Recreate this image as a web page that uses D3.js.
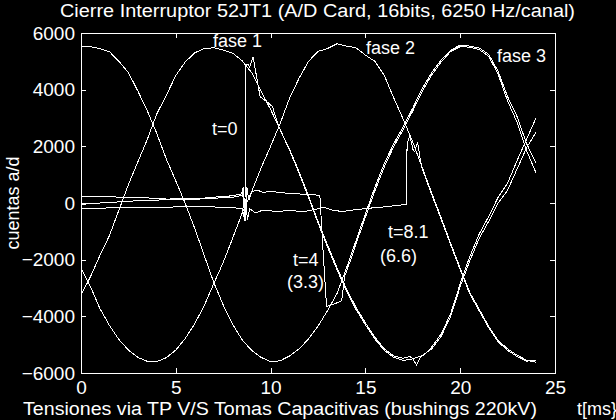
<!DOCTYPE html>
<html>
<head>
<meta charset="utf-8">
<script src="https://cdn.jsdelivr.net/npm/d3@7"></script>
<style>
body { margin: 0; background: #000; }
svg { display: block; background: #000; }
text { font-family: "Liberation Sans", Arial, sans-serif; fill: #fff; }
</style>
</head>
<body>
<script>
// time grid of the TP voltages [ms]
var tGrid = [0,0.5,1,1.5,2,2.5,3,3.5,4,4.5,5,5.5,6,6.5,7,7.5,8,8.5,9,9.5,10,10.5,11,11.5,12,
  12.5,13,13.5,14,14.5,15,15.5,16,16.5,17,17.5,18,18.5,19,19.5,20,20.5,21,21.5,22,22.5,23,23.5,24];

// TP voltages (cuentas a/d)
var tpA = [5540,5520,5450,5340,5000,4600,3950,3250,2450,1550,780,-20,-900,-1850,-2800,-3600,-4280,-4830,-5200,-5450,
  -5600,-5570,-5400,-5150,-4800,-4350,-3800,-3200,-2300,-1340,-380,550,1400,2100,2700,3350,4050,4600,5050,5400,
  5570,5540,5470,5250,4650,3750,3050,2100,1400];
var tpB = [-2300,-2950,-3730,-4320,-4820,-5190,-5450,-5590,-5600,-5460,-5190,-4780,-4260,-3620,-2850,-2100,-1240,-360,400,1240,
  2000,2800,3700,4400,5000,5350,5450,5620,5540,5480,5220,5000,4500,3700,2950,2150,1250,350,-530,-1430,
  -2300,-3150,-3750,-4350,-4850,-5150,-5370,-5550,-5620];
var tpC = [-3250,-2600,-1850,-1150,-250,650,1450,2250,3150,3800,4500,4980,5300,5450,5480,5400,5290,5020,4600,3950,
  3300,2600,1870,1050,200,-700,-1550,-2350,-3100,-3750,-4300,-4800,-5200,-5450,-5560,-5500,-5380,-5150,-4700,-4000,
  -2950,-2050,-1250,-650,0,450,1200,1950,2500];

// capacitive taps, fase 1 (closes at t=0)
var cap1T = [0,1,2,3,4,5,6,7,7.5,8,8.3,8.5,8.55,8.6,8.65,8.7,8.8,8.9,9.08,9.3,9.45,9.8,10.1,10.4,10.8,11,11.5,12,12.5,
  13,13.5,14,14.5,15,15.5,16,16.5,17,17.35,17.5,17.7,17.9,18.2,18.5,19,19.5,20,20.5,21,21.5,22,22.5,23,23.5,24];
var cap1V = [-50,0,40,80,100,160,150,200,240,250,300,250,550,-200,150,4870,4900,4800,5160,4300,3750,3580,3400,2750,2150,1900,1100,250,-650,
  -1480,-2280,-3030,-3680,-4230,-4740,-5150,-5400,-5480,-5420,-5500,-5720,-5450,-5300,-5080,-4620,-3900,-2850,-1900,-1100,-480,200,700,1500,2250,3000];

// fase 2 (closes at t=4)
var cap2T = [0,1,2,3,4,5,6,7,8,8.4,8.55,8.65,8.75,8.85,9,9.3,9.6,10,10.5,11,11.5,12,12.3,12.6,12.75,12.95,13.3,13.75,13.9,14.2,
  14.5,15,15.5,16,16.5,17,17.5,18,18.5,19,19.5,20,20.5,21,21.5,22,22.5,23,23.5,24];
var cap2V = [230,220,210,200,160,120,130,170,200,260,450,-650,550,100,400,450,380,400,380,330,320,280,300,250,-1500,-3650,-3580,-3450,-2600,-2050,
  -1450,-500,430,1280,2000,2600,3250,3950,4520,4980,5350,5520,5500,5420,5180,4550,3600,2850,1850,1060];

// fase 3 (closes at t=8.1)
var cap3T = [0,1,2,3,4,5,6,7,8,8.5,8.6,8.68,8.78,8.9,9.2,9.6,10,10.5,11,11.5,12,12.5,12.8,13.3,13.8,14.3,15.1,16.1,17,17.15,
  17.2,17.35,17.5,17.6,17.75,17.9,18,18.5,19,19.5,20,20.5,21,21.5,22,22.5,23,23.5,24];
var cap3V = [-190,-180,-170,-160,-150,-140,-130,-140,-170,-190,-500,150,-600,-200,-350,-250,-280,-300,-250,-300,-280,-200,-150,-260,-300,-250,-190,-130,-60,-40,
  2100,2380,1900,1810,2160,1500,1200,300,-580,-1480,-2350,-3200,-3800,-4400,-4900,-5200,-5420,-5580,-5560];

var xTicks = [0,5,10,15,20,25];
var yTicks = [-6000,-4000,-2000,0,2000,4000,6000];

var width = 616, height = 420;
var margin = {top: 33, right: 61, bottom: 47, left: 81};
var fontSize = "18px";

var svg = d3.select("body").append("svg")
  .attr("width", width)
  .attr("height", height);

var x = d3.scaleLinear().domain([0, 25]).range([margin.left, width - margin.right]);
var y = d3.scaleLinear().domain([-6000, 6000]).range([height - margin.bottom, margin.top]);

//axes, ticks inside on all four sides
function styleAxis(g) {
  g.selectAll("path, line").attr("stroke", "#fff").attr("stroke-width", 1)
    .attr("shape-rendering", "crispEdges");
  g.selectAll("text").attr("fill", "#fff").style("font-size", "19px")
    .style("font-family", "'Liberation Sans', Arial, sans-serif");
}

svg.append("g")
  .attr("transform", "translate(0," + y(-6000) + ")")
  .call(d3.axisBottom(x).tickValues(xTicks).tickSizeInner(-5).tickSizeOuter(0).tickPadding(8))
  .call(styleAxis);
svg.append("g")
  .attr("transform", "translate(0," + y(6000) + ")")
  .call(d3.axisTop(x).tickValues(xTicks).tickSizeInner(-5).tickSizeOuter(0).tickFormat(""))
  .call(styleAxis);
svg.append("g")
  .attr("transform", "translate(" + x(0) + ",0)")
  .call(d3.axisLeft(y).tickValues(yTicks).tickSizeInner(-5).tickSizeOuter(0).tickPadding(6).tickFormat(d3.format("d")))
  .call(styleAxis);
svg.append("g")
  .attr("transform", "translate(" + x(25) + ",0)")
  .call(d3.axisRight(y).tickValues(yTicks).tickSizeInner(-5).tickSizeOuter(0).tickFormat(""))
  .call(styleAxis);

//lines
var line = d3.line()
  .x(function(d) { return x(d[0]); })
  .y(function(d) { return y(d[1]); });

var series = [
  d3.zip(tGrid, tpA),
  d3.zip(tGrid, tpB),
  d3.zip(tGrid, tpC),
  d3.zip(cap1T, cap1V),
  d3.zip(cap2T, cap2V),
  d3.zip(cap3T, cap3V)
];

svg.selectAll(".serie")
  .data(series)
  .enter().append("path")
  .attr("class", "serie")
  .attr("d", line)
  .attr("fill", "none")
  .attr("stroke", "#fff")
  .attr("stroke-width", 1)
  .attr("shape-rendering", "optimizeSpeed");

//texts
svg.append("text")
  .attr("x", 60)
  .attr("y", 17)
  .attr("textLength", 515)
  .attr("lengthAdjust", "spacingAndGlyphs")
  .style("font-size", fontSize)
  .text("Cierre Interruptor 52JT1 (A/D Card, 16bits, 6250 Hz/canal)");

svg.append("text")
  .attr("transform", "translate(19," + y(0) + ") rotate(-90)")
  .attr("text-anchor", "middle")
  .style("font-size", fontSize)
  .text("cuentas a/d");

svg.append("text")
  .attr("x", 23)
  .attr("y", 415)
  .attr("textLength", 514)
  .attr("lengthAdjust", "spacingAndGlyphs")
  .style("font-size", fontSize)
  .text("Tensiones via TP V/S Tomas Capacitivas (bushings 220kV)");

svg.append("text")
  .attr("x", 577)
  .attr("y", 415)
  .style("font-size", fontSize)
  .text("t[ms}");

var notes = [
  {t: "fase 1", x: 213, y: 47},
  {t: "fase 2", x: 366, y: 54},
  {t: "fase 3", x: 497, y: 62},
  {t: "t=0", x: 212, y: 135},
  {t: "t=4", x: 293, y: 266},
  {t: "(3.3)", x: 287, y: 288},
  {t: "t=8.1", x: 388, y: 238},
  {t: "(6.6)", x: 380, y: 262}
];

svg.selectAll(".note")
  .data(notes)
  .enter().append("text")
  .attr("class", "note")
  .attr("x", function(d) { return d.x; })
  .attr("y", function(d) { return d.y; })
  .style("font-size", fontSize)
  .text(function(d) { return d.t; });
</script>
</body>
</html>
